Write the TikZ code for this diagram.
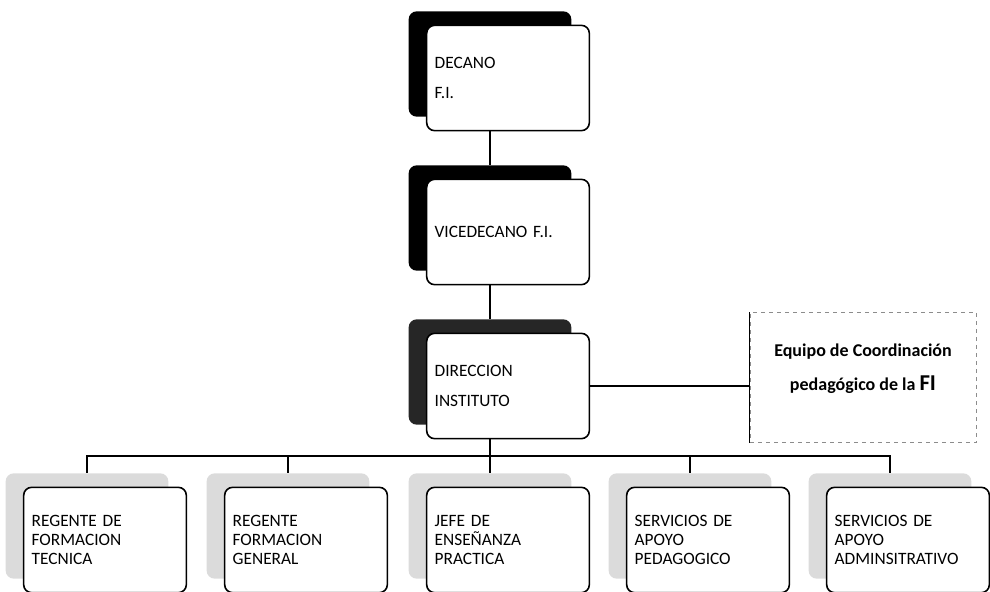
\documentclass[tikz,border=0pt]{standalone}
\usepackage{fontspec}
\setmainfont{Carlito}
\usetikzlibrary{calc}

\begin{document}
\begin{tikzpicture}
  [
    x=0.75pt, y=-0.75pt,
    backbox/.style =
      {rounded corners=6pt, minimum width=122pt, minimum height=79pt, inner sep=0pt},
    frontbox/.style =
      {draw, line width=1.2pt, rounded corners=6pt, fill=white, align=left,
       minimum width=122pt, minimum height=79pt, text width=110pt,
       font=\fontsize{13}{22.5}\selectfont},
    lowbox/.style =
      {frontbox, font=\fontsize{13}{14}\selectfont},
    link/.style =
      {line width=1.2pt}
  ]

\useasboundingbox (0,0) rectangle (990,592);

\node[backbox, fill=black] (decS) at (490,64) {};
\node[frontbox] (dec) at (508,78) {DECANO\\F.I.};

\node[backbox, fill=black] (viceS) at (490,218) {};
\node[frontbox] (vice) at (508,232) {VICEDECANO F.I.};

\node[backbox, fill=black!85] (dirS) at (490,372) {};
\node[frontbox] (dir) at (508,386) {DIRECCION\\INSTITUTO};

\node[draw=black!45, line width=0.6pt, dash pattern=on 3pt off 3pt,
      minimum width=170pt, minimum height=97pt, inner sep=0pt] (eq) at (863.5,377.5) {};
\node[align=center, font=\bfseries\fontsize{13.5}{25.5}\selectfont] (eqtext) at (863,369)
  {Equipo de Coordinación\\pedagógico de la {\fontsize{17}{17}\selectfont FI}};
\draw[line width=0.8pt] (eq.north west) -- (eq.south west);

\foreach \x/\n/\t in {105/r1/{REGENTE DE\\FORMACION\\TECNICA},
                      306/r2/{REGENTE\\FORMACION\\GENERAL},
                      508/r3/{JEFE DE\\ENSEÑANZA\\PRACTICA},
                      708/r4/{SERVICIOS DE\\APOYO\\PEDAGOGICO},
                      908/r5/{SERVICIOS DE\\APOYO\\ADMINSITRATIVO}}
{
  \node[backbox, fill=black!14] (\n s) at (\x-18,526) {};
  \node[lowbox] (\n) at (\x,540) {\t};
}

\coordinate (bus) at (490,456);

\draw[link] (decS |- dec.south) -- (viceS.north);
\draw[link] (viceS |- vice.south) -- (dirS.north);
\draw[link] (dir.east) -- (dir.east -| eq.west);
\draw[link] (dirS |- dir.south) -- (bus);
\foreach \n in {r1,r2,r3,r4,r5}
  \draw[link] (bus) -| (\n s.north);

\end{tikzpicture}
\end{document}
